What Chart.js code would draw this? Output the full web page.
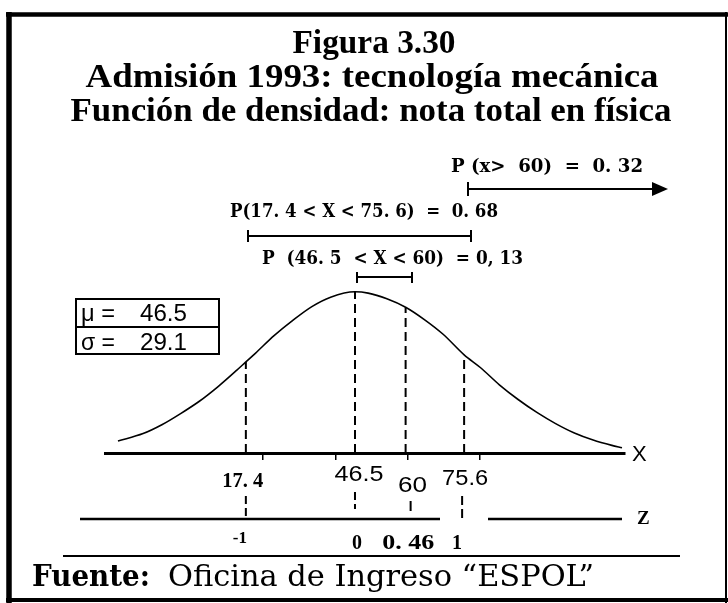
<!DOCTYPE html>
<html>
<head>
<meta charset="utf-8">
<script src="https://cdn.jsdelivr.net/npm/chart.js@4.4.1/dist/chart.umd.min.js"></script>
<style>
  html, body { margin: 0; padding: 0; background: #fff; }
  canvas { display: block; }
</style>
</head>
<body>
<canvas id="mycanvas" width="728" height="603"></canvas>
<script>
// parameters of the distribution
var mu = 46.5;
var sigma = 29.1;

// density curve (nota total en física)
var notas = [-16.7, -10, -5, 0, 5, 10, 15, 17.4, 20, 25, 30, 35, 40, 46.5, 50, 55, 60, 65, 70, 75.6, 80, 85, 90, 95, 100, 105, 110, 115, 117.7];
var densidad = [0.00102, 0.00165, 0.00240, 0.00335, 0.00440, 0.00565, 0.00705, 0.00775, 0.00850, 0.01000, 0.01130, 0.01245, 0.01325, 0.01371, 0.01360, 0.01312, 0.01240, 0.01135, 0.01010, 0.00835, 0.00725, 0.00580, 0.00455, 0.00345, 0.00250, 0.00170, 0.00110, 0.00065, 0.00045];

// marked values on the X axis and their z scores
var marcasX = [17.4, 46.5, 60, 75.6];
var etiquetasX = ['17. 4', '46.5', '60', '75.6'];
var valoresZ = [-1, 0, 0.46, 1];
var etiquetasZ = ['-1', '0', '0. 46', '1'];
var ticksMenores = [22, 41.4, 60.7, 79.8];

// probabilities shown above the curve
var probTextos = ['P (x>  60)  =  0. 32', 'P(17. 4 < X < 75. 6)  =  0. 68', 'P  (46. 5  < X < 60)  = 0, 13'];

function valorEn(x) {
	var i = notas.indexOf(x);
	return densidad[i];
}

function txt(ctx, s, x, y, font, w, align) {
	ctx.save();
	ctx.font = font;
	ctx.textBaseline = 'alphabetic';
	ctx.textAlign = 'left';
	var nat = ctx.measureText(s).width;
	var sx = w ? w / nat : 1;
	var left = x;
	if (align === 'center') left = x - nat * sx / 2;
	ctx.translate(left, y);
	ctx.scale(sx, 1);
	ctx.fillStyle = '#000';
	ctx.fillText(s, 0, 0);
	ctx.restore();
}

function linea(ctx, x1, y1, x2, y2, lw, dash) {
	ctx.save();
	ctx.strokeStyle = '#000';
	ctx.lineWidth = lw;
	ctx.setLineDash(dash || []);
	ctx.beginPath();
	ctx.moveTo(x1, y1);
	ctx.lineTo(x2, y2);
	ctx.stroke();
	ctx.restore();
}

var dibujos = {
	id: 'dibujos',
	beforeDraw: function(chart) {
		var ctx = chart.ctx;
		ctx.save();
		ctx.fillStyle = '#fff';
		ctx.fillRect(0, 0, chart.width, chart.height);
		ctx.restore();
	},
	afterDraw: function(chart) {
		var ctx = chart.ctx;
		var sx = chart.scales.x;
		var px = function(v) { return sx.getPixelForValue(v); };

		// frame
		linea(ctx, 6, 14.5, 728, 14.5, 4.5);
		linea(ctx, 9, 12, 9, 603, 5.5);
		linea(ctx, 6, 600, 728, 600, 4);
		linea(ctx, 726, 12, 726, 603, 2);

		// titles
		var tf = 'bold 34px "Liberation Serif"';
		txt(ctx, 'Figura 3.30', 374, 53, tf, 163, 'center');
		txt(ctx, 'Admisión 1993: tecnología mecánica', 372, 87, tf, 573, 'center');
		txt(ctx, 'Función de densidad: nota total en física', 371, 121, tf, 601, 'center');

		// probability annotations
		var pf = 'bold 18px "DejaVu Serif"';
		txt(ctx, probTextos[0], 451, 172, pf, 192);
		linea(ctx, 468, 189, 655, 189, 2);
		linea(ctx, 468, 182, 468, 196, 2);
		ctx.save();
		ctx.fillStyle = '#000';
		ctx.beginPath();
		ctx.moveTo(668, 189);
		ctx.lineTo(652, 182);
		ctx.lineTo(652, 196);
		ctx.closePath();
		ctx.fill();
		ctx.restore();

		txt(ctx, probTextos[1], 230, 217, pf, 268);
		linea(ctx, 248, 236, 471, 236, 2);
		linea(ctx, 248, 230, 248, 242, 2);
		linea(ctx, 471, 230, 471, 242, 2);

		txt(ctx, probTextos[2], 262, 264, pf, 261);
		linea(ctx, 357, 277, 412, 277, 2);
		linea(ctx, 357, 272, 357, 283, 2);
		linea(ctx, 412, 272, 412, 283, 2);

		// mu / sigma box
		ctx.save();
		ctx.strokeStyle = '#000';
		ctx.lineWidth = 2;
		ctx.strokeRect(76, 299, 143, 55);
		ctx.restore();
		linea(ctx, 76, 327, 219, 327, 2);
		var bf = '24px "Liberation Sans"';
		txt(ctx, 'μ =', 81, 321, bf, 34);
		txt(ctx, String(mu), 140, 321, bf, 47);
		txt(ctx, 'σ =', 81, 350, bf, 34);
		txt(ctx, String(sigma), 140, 350, bf, 47);

		// X label
		txt(ctx, 'X', 632, 461, '22px "Liberation Sans"');

		// labels below the X axis
		var lf = '22px "Liberation Sans"';
		txt(ctx, etiquetasX[0], px(marcasX[0]) - 3, 487, 'bold 21px "Liberation Serif"', 41, 'center');
		txt(ctx, etiquetasX[1], px(marcasX[1]) + 4, 481, lf, 49, 'center');
		txt(ctx, etiquetasX[2], px(marcasX[2]) + 7, 492, lf, 29, 'center');
		txt(ctx, etiquetasX[3], px(marcasX[3]) + 1, 485, lf, 46, 'center');

		// connectors down to the z axis
		linea(ctx, px(marcasX[0]), 496, px(marcasX[0]), 518, 2, [8, 4]);
		linea(ctx, px(marcasX[1]), 492, px(marcasX[1]), 509, 2, [8, 4]);
		linea(ctx, px(marcasX[2]) + 5, 501, px(marcasX[2]) + 5, 511, 2);
		linea(ctx, px(marcasX[3]) - 2, 496, px(marcasX[3]) - 2, 521, 2, [9, 4]);

		// z axis
		linea(ctx, 80, 519, 440, 519, 2.5);
		linea(ctx, 488, 519, 622, 519, 2.5);
		txt(ctx, 'Z', 637, 524, 'bold 19px "Liberation Serif"');

		var zf = 'bold 20px "Liberation Serif"';
		txt(ctx, etiquetasZ[0], px(mu + valoresZ[0] * sigma) - 6, 543, 'bold 17px "Liberation Serif"', 0, 'center');
		txt(ctx, etiquetasZ[1], px(mu + valoresZ[1] * sigma) + 2, 549, zf, 0, 'center');
		txt(ctx, etiquetasZ[2], px(mu + valoresZ[2] * sigma) + 3, 549, zf, 52, 'center');
		txt(ctx, etiquetasZ[3], px(mu + valoresZ[3] * sigma) - 7, 549, zf, 0, 'center');

		// source
		linea(ctx, 63, 556, 680, 556, 2);
		txt(ctx, 'Fuente:', 32, 586, 'bold 30px "DejaVu Serif"', 118);
		txt(ctx, 'Oficina de Ingreso \u201cESPOL\u201d', 168, 586, '30px "DejaVu Serif"', 426);
	}
};

var datasets = [{
	data: notas.map(function(x, i) { return {x: x, y: densidad[i]}; }),
	borderColor: '#000',
	borderWidth: 1.6,
	pointRadius: 0,
	tension: 0.4,
	cubicInterpolationMode: 'monotone',
	fill: false
}];

for (var i in marcasX) {
	datasets.push({
		data: [{x: marcasX[i], y: 0}, {x: marcasX[i], y: valorEn(marcasX[i])}],
		borderColor: '#000',
		borderWidth: 2,
		borderDash: [9, 5],
		pointRadius: 0,
		fill: false
	});
}

var ctx = document.getElementById('mycanvas');
var grafico = new Chart(ctx, {
	type: 'line',
	data: { datasets: datasets },
	options: {
		responsive: false,
		animation: false,
		devicePixelRatio: 1,
		layout: { padding: { left: 105.6, right: 103, top: 259, bottom: 143 } },
		plugins: { legend: { display: false }, tooltip: { enabled: false } },
		scales: {
			x: {
				type: 'linear',
				min: -20,
				max: 118.5,
				afterBuildTicks: function(s) {
					s.ticks = ticksMenores.map(function(v) { return {value: v}; });
				},
				ticks: { display: false },
				grid: { drawOnChartArea: false, drawTicks: true, tickLength: 7, color: '#000', lineWidth: 1.5 },
				border: { display: true, color: '#000', width: 3 }
			},
			y: { display: false, min: 0, max: 0.0165 }
		}
	},
	plugins: [dibujos]
});
</script>
</body>
</html>
